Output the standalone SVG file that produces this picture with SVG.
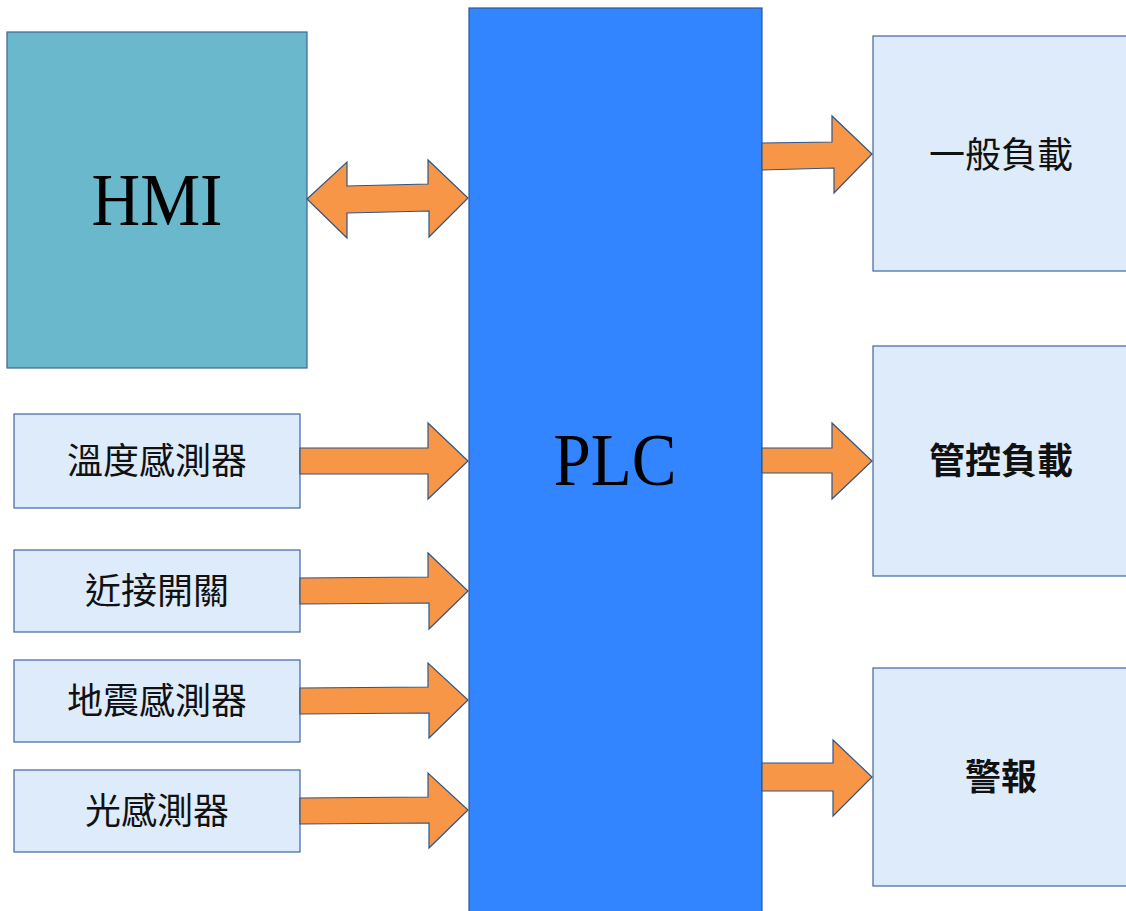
<svg xmlns="http://www.w3.org/2000/svg" width="1126" height="911" viewBox="0 0 1126 911">
<style>
.box{fill:#DDEBFB;stroke:#3F66A0;stroke-width:1.2}
.arr{fill:#F79646;stroke:#2F5588;stroke-width:1.2;stroke-linejoin:miter}
.lbl{font-family:"Noto Sans CJK TC","Noto Sans CJK SC",sans-serif;font-size:36px;fill:#111;text-anchor:middle}
.bold{font-weight:bold}
.big{font-family:"Liberation Serif","Times New Roman",serif;font-size:75px;fill:#000;text-anchor:middle}
</style>
<rect width="1126" height="911" fill="#fff"/>
<g id="plc">
<rect x="469" y="8" width="293" height="910" fill="#3385FF" stroke="#2B5A9A" stroke-width="1.2"/>
<text class="big" x="615" y="485" textLength="123" lengthAdjust="spacingAndGlyphs">PLC</text>
</g>
<g id="hmi">
<rect x="7" y="32" width="300" height="336" fill="#69B8CC" stroke="#3C6591" stroke-width="1.2"/>
<text class="big" x="157" y="225" textLength="131" lengthAdjust="spacingAndGlyphs">HMI</text>
</g>
<g id="temp">
<rect class="box" x="14" y="414" width="286" height="94"/>
<text class="lbl" x="157" y="474">溫度感測器</text>
</g>
<g id="prox">
<rect class="box" x="14" y="550" width="286" height="82"/>
<text class="lbl" x="157" y="604">近接開關</text>
</g>
<g id="quake">
<rect class="box" x="14" y="660" width="286" height="82"/>
<text class="lbl" x="157" y="714">地震感測器</text>
</g>
<g id="light">
<rect class="box" x="14" y="770" width="286" height="82"/>
<text class="lbl" x="157" y="824">光感測器</text>
</g>
<g id="load1">
<rect class="box" x="873" y="36" width="260" height="235"/>
<text class="lbl" x="1001" y="168">一般負載</text>
</g>
<g id="load2">
<rect class="box" x="873" y="346" width="260" height="230"/>
<text class="lbl bold" x="1001" y="474">管控負載</text>
</g>
<g id="alarm">
<rect class="box" x="873" y="668" width="260" height="218"/>
<text class="lbl bold" x="1001" y="790">警報</text>
</g>
<g id="connectors">
<polygon class="arr" points="307,199 347,162 347,186 428,184 428,160 468,198 429,237 429,211 347,213 347,238"/>
<polygon class="arr" points="762,143 832,142 832,116 872,154 834,193 834,168 762,170"/>
<polygon class="arr" points="762,448 832,448 832,423 872,461 832,499 832,473 762,473"/>
<polygon class="arr" points="762,763 833,763 833,740 872,777 833,816 833,791 762,791"/>
<polygon class="arr" points="300,448 428,448 428,423 468,461 428,499 428,474 300,474"/>
<polygon class="arr" points="300,578 428,577 428,553 468,591 429,629 429,603 300,604"/>
<polygon class="arr" points="300,688 428,687 428,663 468,700 429,738 429,713 300,714"/>
<polygon class="arr" points="300,798 428,797 428,773 468,810 429,848 429,823 300,824"/>
</g>
</svg>
